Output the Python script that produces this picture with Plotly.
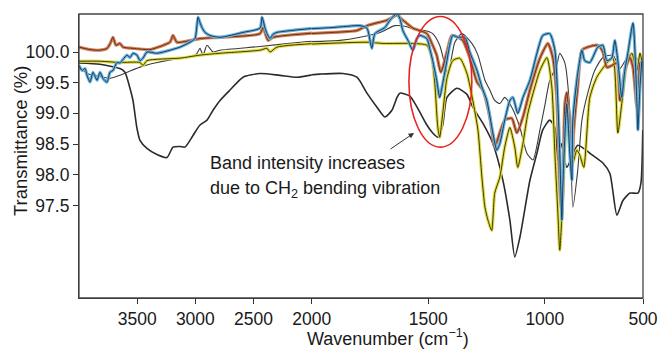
import plotly.graph_objects as go

# ---------------- data (wavenumber cm-1, transmittance %) ----------------
wn_blue = [4000, 3974, 3948, 3931, 3905, 3880, 3845, 3820, 3794, 3759, 3734, 3708, 3673, 3648, 3622, 3587,
           3562, 3536, 3502, 3476, 3450, 3416, 3330, 3218, 3132, 3046, 3003, 2977, 2960, 2943, 2917, 2874,
           2788, 2590, 2444, 2427, 2401, 2384, 2358, 2332, 2298, 1909, 1793, 1763, 1742, 1729, 1686, 1664,
           1634, 1622, 1609, 1587, 1566, 1549, 1536, 1506, 1494, 1481, 1464, 1451, 1438, 1420, 1408, 1395,
           1373, 1343, 1322, 1291, 1270, 1249, 1223, 1206, 1193, 1172, 1150, 1137, 1116, 1094, 1064, 1034,
           1009, 979, 957, 944, 936, 927, 923, 906, 893, 884, 880, 859, 841, 829, 807, 773, 751, 734, 713,
           700, 687, 670, 657, 644, 622, 605, 601, 592, 584]
t_blue = [99.78, 99.70, 99.73, 99.62, 99.51, 99.67, 99.54, 99.67, 99.57, 99.51, 99.67, 99.70, 99.83, 99.82,
          99.88, 99.95, 99.91, 99.98, 99.95, 99.86, 99.90, 100.00, 99.98, 100.03, 100.08, 100.16, 100.22,
          100.57, 100.48, 100.40, 100.32, 100.27, 100.24, 100.32, 100.39, 100.57, 100.39, 100.30, 100.22,
          100.29, 100.32, 100.40, 100.43, 100.39, 100.06, 100.30, 100.40, 100.52, 100.63, 100.55, 100.35,
          100.19, 100.03, 100.22, 100.27, 100.22, 100.06, 99.86, 99.54, 99.26, 99.49, 99.86, 100.11, 100.27,
          100.24, 100.24, 100.00, 99.70, 99.43, 99.21, 98.68, 98.40, 98.51, 98.89, 99.21, 99.26, 99.00,
          99.26, 99.54, 99.98, 100.27, 100.30, 100.03, 99.16, 98.35, 97.26, 97.80, 99.16, 98.35, 97.91,
          98.89, 99.65, 100.03, 99.86, 99.83, 100.08, 100.11, 99.86, 99.90, 100.19, 99.86, 99.26, 99.70,
          99.98, 100.47, 99.16, 98.73, 99.43, 99.86]

wn_brown = [4000, 3905, 3820, 3759, 3734, 3708, 3682, 3648, 3622, 3536, 3390, 3304, 3218, 3192, 3158, 2960,
            2788, 2444, 2418, 2375, 2332, 1909, 1806, 1763, 1677, 1634, 1609, 1566, 1506, 1481, 1464, 1446,
            1420, 1399, 1373, 1352, 1322, 1291, 1266, 1236, 1215, 1193, 1172, 1142, 1120, 1094, 1064, 1021,
            987, 966, 949, 936, 927, 914, 906, 893, 884, 876, 859, 841, 816, 773, 751, 734, 713, 691, 678,
            657, 635, 622, 605, 592, 584]
t_brown = [100.08, 100.04, 100.03, 100.06, 100.13, 100.24, 100.11, 100.14, 100.08, 100.06, 100.04, 100.09,
           100.16, 100.27, 100.16, 100.22, 100.24, 100.30, 100.40, 100.19, 100.24, 100.32, 100.35, 100.43,
           100.52, 100.60, 100.52, 100.39, 100.30, 100.11, 99.95, 99.67, 100.00, 100.27, 100.24, 100.19,
           99.91, 99.51, 99.38, 98.94, 98.45, 98.69, 98.89, 98.92, 98.68, 98.94, 99.38, 99.90, 100.14,
           99.91, 99.26, 97.80, 97.37, 99.16, 99.34, 98.73, 98.12, 98.73, 99.43, 100.03, 100.08, 100.11,
           100.00, 99.75, 99.78, 99.82, 99.21, 99.70, 99.91, 99.75, 99.10, 99.82, 99.70]

wn_yellow = [4000, 3820, 3648, 3476, 3450, 3416, 3132, 2960, 2788, 2444, 2384, 2358, 2298, 1763, 1694, 1566,
             1506, 1485, 1472, 1459, 1451, 1438, 1420, 1395, 1365, 1334, 1309, 1287, 1270, 1257, 1244, 1228,
             1215, 1193, 1172, 1150, 1129, 1116, 1094, 1073, 1043, 1021, 991, 970, 957, 944, 936, 923, 906,
             893, 880, 863, 850, 833, 807, 777, 734, 708, 687, 670, 648, 627, 605, 592, 584]
t_yellow = [99.85, 99.85, 99.83, 99.83, 99.78, 99.86, 99.90, 99.95, 99.98, 100.03, 100.06, 100.00, 100.08,
            100.16, 100.14, 100.14, 100.11, 99.91, 99.49, 98.77, 98.61, 99.00, 99.57, 99.86, 99.90, 99.65,
            99.21, 98.73, 97.96, 97.47, 97.26, 97.09, 97.70, 97.96, 98.45, 98.77, 98.45, 98.12, 98.51, 99.00,
            99.43, 99.70, 99.91, 99.43, 98.35, 97.37, 96.77, 97.63, 99.00, 98.61, 98.19, 98.40, 98.32, 98.12,
            99.26, 99.59, 99.82, 99.90, 98.68, 99.16, 99.82, 99.98, 99.70, 99.98, 99.86]

wn_black = [4000, 3820, 3648, 3605, 3562, 3536, 3502, 3476, 3416, 3330, 3244, 3192, 3132, 3089, 3020, 2960,
            2900, 2848, 2788, 2702, 2590, 2444, 2272, 2126, 1964, 1866, 1806, 1763, 1720, 1686, 1656, 1634,
            1622, 1579, 1557, 1536, 1506, 1481, 1459, 1438, 1420, 1377, 1334, 1309, 1266, 1223, 1180, 1150,
            1129, 1107, 1064, 1034, 1009, 979, 957, 944, 927, 906, 859, 807, 751, 721, 691, 665, 635, 601,
            588, 580]
t_black = [99.82, 99.80, 99.73, 99.67, 99.41, 99.21, 98.76, 98.56, 98.43, 98.33, 98.28, 98.45, 98.46, 98.45,
           98.64, 98.81, 98.89, 99.05, 99.21, 99.38, 99.59, 99.65, 99.62, 99.59, 99.64, 99.65, 99.59, 99.33,
           99.10, 98.94, 99.05, 99.26, 99.33, 99.28, 99.16, 99.02, 98.81, 98.68, 98.61, 98.81, 99.26, 99.41,
           99.31, 99.10, 98.84, 98.51, 97.91, 97.26, 96.66, 96.98, 97.91, 98.35, 98.73, 98.89, 98.77, 98.24,
           98.51, 98.12, 98.48, 98.35, 98.19, 98.02, 97.34, 97.58, 97.70, 97.70, 97.86, 98.73]

wn_gray = [4000, 3931, 3880, 3820, 3734, 3648, 3562, 3450, 3347, 3132, 3020, 2986, 2960, 2934, 2900, 2848,
           2788, 2444, 2100, 1879, 1793, 1707, 1643, 1600, 1557, 1515, 1481, 1451, 1416, 1386, 1356, 1313,
           1287, 1257, 1236, 1215, 1193, 1172, 1142, 1107, 1077, 1051, 1021, 1000, 979, 949, 936, 914, 893,
           880, 859, 841, 816, 786, 751, 708, 678, 648, 622, 592]
t_gray = [99.77, 99.65, 99.62, 99.60, 99.57, 99.62, 99.69, 99.77, 99.82, 99.90, 99.93, 99.98, 100.06, 99.95,
          100.11, 100.00, 100.03, 100.09, 100.16, 100.19, 100.24, 100.32, 100.43, 100.42, 100.37, 100.35,
          100.30, 100.11, 99.65, 100.16, 100.30, 100.14, 99.95, 99.54, 99.38, 99.21, 99.16, 99.26, 99.10,
          98.77, 98.35, 98.24, 98.73, 99.13, 99.54, 99.78, 99.98, 99.82, 99.05, 97.47, 98.07, 98.89, 99.33,
          99.70, 99.91, 99.95, 99.73, 99.90, 99.95, 99.83]

left_ticks = [3500, 3000, 2500, 2000]
right_ticks = [1500, 1000, 579]
right_ticktext = ["1500", "1000", "500"]
y_ticks = [97.5, 98.0, 98.5, 99.0, 99.5, 100.0]
y_ticktext = ["97.5", "98.0", "98.5", "99.0", "99.5", "100.0"]

BREAK = 2000
FONT = "Liberation Sans, Arial, Helvetica, sans-serif"


def split(wn, t):
    """Split a spectrum into the part drawn on the 4000-2000 axis and the 2000-500 axis."""
    lx, ly, rx, ry = [], [], [], []
    for w, v in zip(wn, t):
        if w >= BREAK:
            lx.append(w); ly.append(v)
        if w <= BREAK:
            rx.append(w); ry.append(v)
    # carry one neighbour across the break so the curve is continuous (clipped by axes)
    k = next(i for i, w in enumerate(wn) if w < BREAK)
    lx.append(wn[k]); ly.append(t[k])
    rx.insert(0, wn[k - 1]); ry.insert(0, t[k - 1])
    return lx, ly, rx, ry


fig = go.Figure()


def add(wn, t, color, width):
    lx, ly, rx, ry = split(wn, t)
    for xs, ys, xa in ((lx, ly, "x"), (rx, ry, "x2")):
        fig.add_trace(go.Scatter(x=xs, y=ys, mode="lines", xaxis=xa, yaxis="y",
                                 line=dict(color=color, width=width, shape="spline", smoothing=0.6),
                                 hoverinfo="skip", showlegend=False))


add(wn_black, t_black, "#2b2b2b", 1.6)
add(wn_gray, t_gray, "#3c3c3c", 1.1)
add(wn_yellow, t_yellow, "#e3dc3c", 3.2)
add(wn_yellow, t_yellow, "#3a3a18", 1.0)
add(wn_brown, t_brown, "#d17f55", 3.2)
add(wn_brown, t_brown, "#6a3018", 1.0)
add(wn_blue, t_blue, "#6cb5e0", 3.2)
add(wn_blue, t_blue, "#1d3a56", 1.0)

split_dom = (311.7 - 79) / 564.0
axis_common = dict(showgrid=False, zeroline=False, showline=True, linecolor="#333", linewidth=1.2,
                   ticks="outside", ticklen=5, tickcolor="#333", tickwidth=1, automargin=False,
                   ticklabeloverflow="allow",
                   tickfont=dict(family=FONT, size=17.5, color="#1a1a1a"))

fig.update_layout(
    width=660, height=350,
    margin=dict(l=79, r=17, t=14, b=52, autoexpand=False),
    paper_bgcolor="white", plot_bgcolor="white",
    font=dict(family=FONT, color="#1a1a1a"),
    xaxis=dict(domain=[0, split_dom], range=[4000, BREAK], tickvals=left_ticks, anchor="y", **axis_common),
    xaxis2=dict(domain=[split_dom, 1], range=[BREAK, 579], tickvals=right_ticks, ticktext=right_ticktext,
                anchor="y", **axis_common),
    yaxis=dict(range=[95.99, 100.62], tickvals=y_ticks, ticktext=y_ticktext, anchor="x", **axis_common),
)

# frame
fig.add_shape(type="rect", xref="paper", yref="paper", x0=0, x1=1, y0=0, y1=1,
              line=dict(color="#444", width=1.3), layer="above")

# red ellipse around the CH2 bending band
fig.add_shape(type="circle", xref="x2", yref="y", x0=1583, x1=1313, y0=98.45, y1=100.58,
              line=dict(color="#e5251f", width=1.6), layer="above")

# arrow
fig.add_annotation(xref="x2", yref="y", x=1561, y=98.68, ax=-25, ay=17, text="",
                   showarrow=True, arrowhead=2, arrowsize=1.1, arrowwidth=1, arrowcolor="#333")

fig.add_annotation(xref="paper", yref="paper", x=(208 - 79) / 564.0, y=(298 - 163) / 284.0,
                   xanchor="left", yanchor="middle", showarrow=False,
                   text="Band intensity increases", font=dict(family=FONT, size=18, color="#1a1a1a"))
fig.add_annotation(xref="paper", yref="paper", x=(208 - 79) / 564.0, y=(298 - 189) / 284.0,
                   xanchor="left", yanchor="middle", showarrow=False,
                   text="due to CH<sub>2</sub> bending vibration", font=dict(family=FONT, size=18, color="#1a1a1a"))

# axis titles
fig.add_annotation(xref="paper", yref="paper", x=(387.5 - 79) / 564.0, y=(298 - 337) / 284.0,
                   xanchor="center", yanchor="middle", showarrow=False,
                   text="Wavenumber (cm<sup>−1</sup>)", font=dict(family=FONT, size=18, color="#1a1a1a"))
fig.add_annotation(xref="paper", yref="paper", x=(20 - 79) / 564.0, y=(298 - 141) / 284.0,
                   xanchor="center", yanchor="middle", showarrow=False, textangle=-90,
                   text="Transmittance (%)", font=dict(family=FONT, size=18.5, color="#1a1a1a"))

fig.write_html("out.html")
